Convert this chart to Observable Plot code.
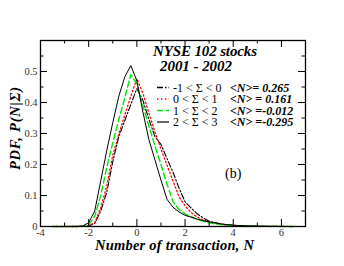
<!DOCTYPE html>
<html><head><meta charset="utf-8">
<script src="https://cdn.jsdelivr.net/npm/d3@7"></script>
<script src="https://cdn.jsdelivr.net/npm/@observablehq/plot@0.6"></script>
<style>body{margin:0;background:#fff}</style>
</head><body><div id="chart"></div>
<script>
// Number of transactions, N (grid)
const N = [-3.5,-3,-2.5,-2.25,-2,-1.75,-1.5,-1.25,-1,-0.75,-0.5,-0.25,0,0.25,0.5,0.75,1,1.25,1.5,1.75,2,2.25,2.5,2.75,3,3.5,4,4.5,5,5.5,6,6.5];
// -1 < Σ < 0
const pdfS0 = [0,0,0,0,0.002,0.01,0.05,0.11,0.209,0.29,0.342,0.394,0.445,0.407,0.346,0.29,0.265,0.219,0.175,0.124,0.08,0.06,0.041,0.028,0.017,0.008,0.004,0.002,0.001,0.0005,0.0002,0];
// 0 < Σ < 1
const pdfS1 = [0,0,0,0.0005,0.003,0.012,0.06,0.13,0.23,0.298,0.36,0.42,0.477,0.43,0.366,0.305,0.25,0.198,0.147,0.096,0.067,0.045,0.031,0.021,0.014,0.007,0.003,0.0015,0.0008,0.0004,0.0002,0];
// 1 < Σ < 2
const pdfS2 = [0,0,0,0.001,0.006,0.033,0.1,0.19,0.27,0.345,0.416,0.49,0.46,0.39,0.324,0.26,0.2,0.137,0.08,0.055,0.041,0.032,0.023,0.017,0.012,0.006,0.003,0.0015,0.0008,0.0004,0.0002,0];
// 2 < Σ < 3
const pdfS3 = [0,0,0.0005,0.002,0.012,0.05,0.147,0.245,0.335,0.42,0.483,0.519,0.47,0.37,0.28,0.215,0.15,0.088,0.062,0.047,0.036,0.03,0.024,0.019,0.015,0.008,0.004,0.002,0.001,0.0005,0.0002,0];

const rangeLabels = ["-1 < \u03A3 < 0", "0 < \u03A3 < 1", "1 < \u03A3 < 2", "2 < \u03A3 < 3"];
const meanLabels = ["<N>= 0.265", "<N> = 0.161", "<N> =-0.012", "<N> =-0.295"];
const titleLines = ["NYSE 102 stocks", "2001 - 2002"];
const panelLabel = "(b)";
const xLabel = "Number of transaction, N";
const yLabel = "PDF, P(N|\u03A3)";
const xTickLabels = [-4,-2,0,2,4,6];
const xMinorTicks = [-3,-1,1,3,5,7];
const yTickLabels = [0,0.1,0.2,0.3,0.4,0.5];
const yMinorTicks = [0.05,0.15,0.25,0.35,0.45,0.55,0.6];

const seriesList = [pdfS0, pdfS1, pdfS2, pdfS3];
const styles = [
  {stroke: "black", dash: "6,2,1.5,2", w: 1.1},
  {stroke: "#ff0000", dash: "1.5,2.4", w: 1.3},
  {stroke: "#00e600", dash: "6,3", w: 1.4},
  {stroke: "black", dash: null, w: 1.0}
];
const rows = [];
seriesList.forEach((arr, s) => arr.forEach((p, i) => rows.push({s, N: N[i], p})));

const W = 344, H = 266, mL = 40, mR = 39, mT = 40, mB = 40;
const fw = W - mL - mR, fh = H - mT - mB;
const font = "'Liberation Serif', 'Times New Roman', serif";
const major = 7, minor = 3.5;

const marks = [];
styles.forEach((st, s) => {
  marks.push(Plot.line(rows.filter(r => r.s === s), {x: "N", y: "p", stroke: st.stroke, strokeWidth: st.w, strokeDasharray: st.dash, curve: "linear"}));
});
marks.push(
  Plot.ruleX(xTickLabels, {x: d => d, insetTop: fh - major, stroke: "black"}),
  Plot.ruleX(xMinorTicks, {x: d => d, insetTop: fh - minor, stroke: "black"}),
  Plot.ruleX(xTickLabels, {x: d => d, insetBottom: fh - major, stroke: "black"}),
  Plot.ruleX(xMinorTicks, {x: d => d, insetBottom: fh - minor, stroke: "black"}),
  Plot.ruleY(yTickLabels, {y: d => d, insetRight: fw - major, stroke: "black"}),
  Plot.ruleY(yMinorTicks, {y: d => d, insetRight: fw - minor, stroke: "black"}),
  Plot.ruleY(yTickLabels, {y: d => d, insetLeft: fw - major, stroke: "black"}),
  Plot.ruleY(yMinorTicks, {y: d => d, insetLeft: fw - minor, stroke: "black"}),
  Plot.axisX(xTickLabels, {tickSize: 0, tickPadding: 2, tickFormat: d => String(d), fontSize: 10.5, fill: "#333", label: null}),
  Plot.axisY(yTickLabels, {tickSize: 0, tickPadding: 3, tickFormat: d => d === 0 ? "0" : d.toFixed(1), fontSize: 10.5, fill: "#333", label: null}),
  Plot.frame({stroke: "black", strokeWidth: 1.3})
);

const plot = Plot.plot({
  width: W, height: H,
  marginLeft: mL, marginRight: mR, marginTop: mT, marginBottom: mB,
  x: {domain: [-4, 7]},
  y: {domain: [0, 0.6]},
  style: {fontFamily: font, background: "white"},
  marks
});
document.getElementById("chart").appendChild(plot);

const svg = d3.select(plot);
const g = svg.append("g").attr("font-family", font).attr("fill", "black").attr("text-anchor", "start");
const bi = sel => sel.attr("font-weight", "bold").attr("font-style", "italic");
// title
bi(g.append("text").attr("x", 153).attr("y", 56).attr("font-size", 15).attr("textLength", 104).attr("lengthAdjust", "spacing").text(titleLines[0]));
bi(g.append("text").attr("x", 160).attr("y", 71).attr("font-size", 15).attr("textLength", 72).attr("lengthAdjust", "spacing").text(titleLines[1]));
// legend
const rowY = [87.5, 99, 110.5, 122];
styles.forEach((st, i) => {
  g.append("line").attr("x1", 157).attr("x2", 169).attr("y1", rowY[i]).attr("y2", rowY[i])
    .attr("stroke", st.stroke).attr("stroke-width", st.w + 0.2).attr("stroke-dasharray", st.dash);
  g.append("text").attr("x", 173).attr("y", rowY[i] + 4).attr("font-size", 12).text(rangeLabels[i]);
  bi(g.append("text").attr("x", 230).attr("y", rowY[i] + 4).attr("font-size", 12).text(meanLabels[i]));
});
// panel label
g.append("text").attr("x", 225).attr("y", 178).attr("font-size", 14).text(panelLabel);
// axis labels
bi(g.append("text").attr("x", 95).attr("y", 250).attr("font-size", 14.5).attr("textLength", 159).attr("lengthAdjust", "spacing").text(xLabel));
bi(g.append("text").attr("transform", "translate(20,170) rotate(-90)").attr("font-size", 14.5).attr("textLength", 83).attr("lengthAdjust", "spacing").text(yLabel));
</script></body></html>
